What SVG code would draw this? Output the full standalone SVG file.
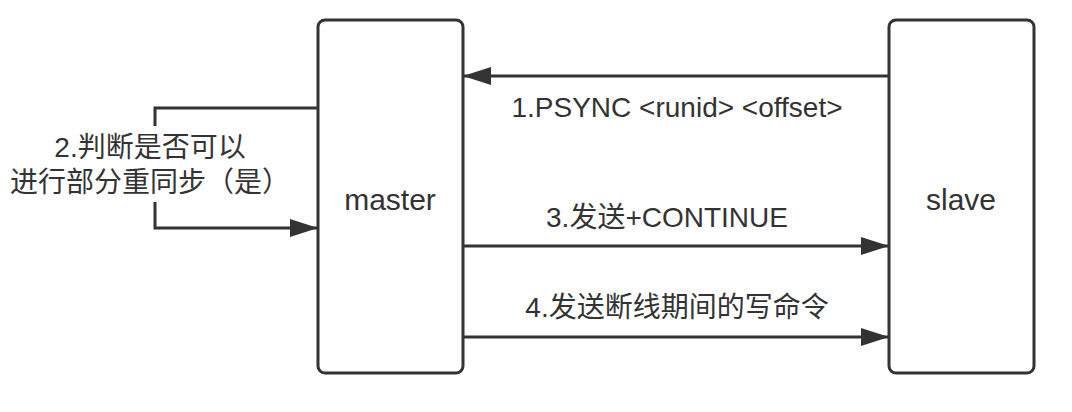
<svg xmlns="http://www.w3.org/2000/svg" width="1072" height="412" viewBox="0 0 1072 412">
<style>
.box{fill:#fff;stroke:#333;stroke-width:3}
.edge{fill:none;stroke:#333;stroke-width:3}
.t{font-family:"Liberation Sans","Noto Sans CJK SC",sans-serif;font-size:28px;fill:#333;text-anchor:middle}
.n{font-size:30px}
</style>
<defs>
<marker id="ah" markerUnits="userSpaceOnUse" markerWidth="28" markerHeight="18" refX="28" refY="9" orient="auto">
<path d="M0,0 L28,9 L0,18 z" fill="#333"/>
</marker>
</defs>
<rect width="1072" height="412" fill="#fff"/>
<g id="master"><rect class="box" x="318" y="20" width="145" height="353" rx="7"/><text class="t n" x="390" y="210">master</text></g>
<g id="slave"><rect class="box" x="889" y="20" width="145" height="353" rx="7"/><text class="t n" x="961" y="210">slave</text></g>
<g id="connectors">
<path class="edge" d="M318,108 H155 V228 H318" marker-end="url(#ah)"/>
<rect x="18" y="126" width="264" height="76" fill="#fff"/>
<text class="t" x="150" y="157" font-size="27">2.判断是否可以</text>
<text class="t" x="150" y="192" font-size="27">进行部分重同步（是）</text>
<path class="edge" d="M889,76 H463" marker-end="url(#ah)"/>
<text class="t" x="677" y="117">1.PSYNC &lt;runid&gt; &lt;offset&gt;</text>
<path class="edge" d="M463,246 H889" marker-end="url(#ah)"/>
<text class="t" x="667" y="227">3.发送+CONTINUE</text>
<path class="edge" d="M463,337 H889" marker-end="url(#ah)"/>
<text class="t" x="677" y="317">4.发送断线期间的写命令</text>
</g>
</svg>
